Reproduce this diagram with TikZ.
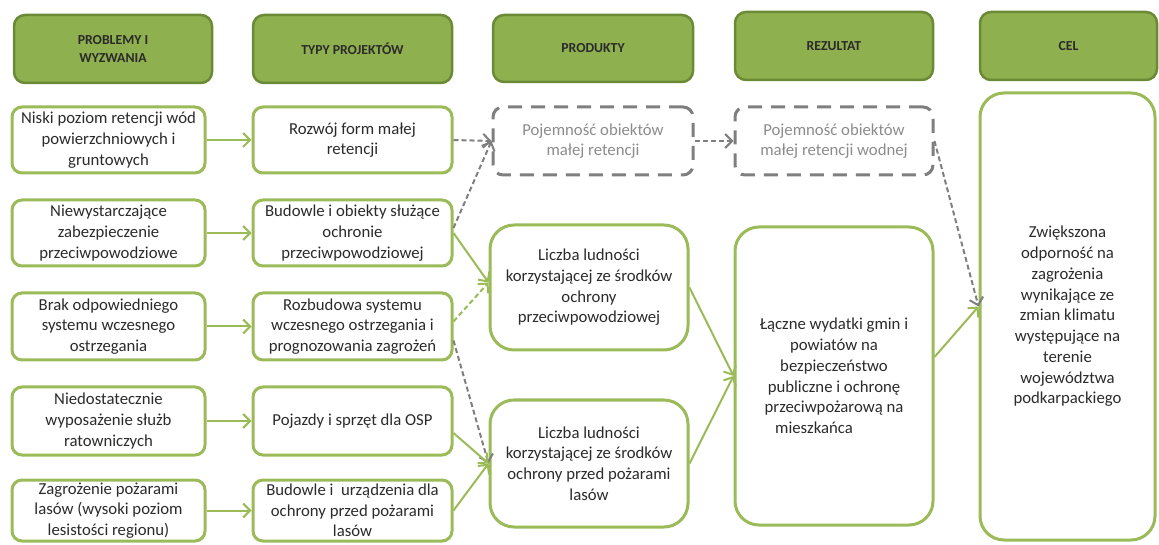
\documentclass[tikz,border=0pt]{standalone}
\usepackage{fontspec}
\setmainfont{Carlito}
\usetikzlibrary{arrows.meta}
\definecolor{gline}{HTML}{9BBB59}
\definecolor{hfill}{HTML}{8FB04F}
\definecolor{hline}{HTML}{6A8A36}
\definecolor{dgray}{HTML}{7F7F7F}
\definecolor{tgray}{HTML}{8C8C8C}
\definecolor{txt}{HTML}{2B2B2B}
\tikzset{
  hdr/.style={draw=hline, fill=hfill, line width=2.5bp, rounded corners=11bp, align=center,
    font=\fontsize{13.8}{17.5}\selectfont\bfseries, text=txt, inner sep=0pt},
  gbox/.style={draw=gline, fill=white, line width=3bp, rounded corners=10bp, align=center,
    font=\fontsize{16.8}{20.8}\selectfont, text=txt, inner sep=0pt},
  bigbox/.style={gbox, rounded corners=24bp},
  dbox/.style={draw=dgray, fill=white, line width=3bp, rounded corners=10bp, align=center,
    dash pattern=on 14bp off 9bp, font=\fontsize{16.8}{20.8}\selectfont, text=tgray, inner sep=0pt},
  garr/.style={draw=gline, line width=2bp, -{Straight Barb[length=7bp,width=14bp]}},
  gdarr/.style={garr, dash pattern=on 5bp off 3bp},
  darr/.style={draw=dgray, line width=2bp, dash pattern=on 5bp off 3bp, -{Straight Barb[length=7bp,width=14bp]}},
}
\newcommand{\bx}[6]{% name, style, x1,y1,x2,y2 -> centered node
  \node[#2, minimum width={(#5-#3)*1bp}, minimum height={(#6-#4)*1bp}] (#1) at ({(#3+#5)/2},{(#4+#6)/2})}
\begin{document}
\begin{tikzpicture}[x=1bp,y=-1bp]
\useasboundingbox (0,0) rectangle (1159,545);
% headers
\bx{H1}{hdr}{14}{15}{212}{83}{PROBLEMY I\\WYZWANIA};
\bx{H2}{hdr}{253}{15}{452}{83}{TYPY PROJEKTÓW};
\bx{H3}{hdr}{493}{15}{693}{82}{PRODUKTY};
\bx{H4}{hdr}{735}{12}{933}{80}{REZULTAT};
\bx{H5}{hdr}{980}{12}{1157}{80}{CEL};
% problems
\bx{P1}{gbox}{12}{107}{205}{173}{Niski poziom retencji wód\\powierzchniowych i\\gruntowych};
\bx{P2}{gbox}{12}{200}{205}{266}{Niewystarczające\\zabezpieczenie\\przeciwpowodziowe};
\bx{P3}{gbox}{12}{293}{205}{360}{Brak odpowiedniego\\systemu wczesnego\\ostrzegania};
\bx{P4}{gbox}{12}{387}{205}{455}{Niedostatecznie\\wyposażenie służb\\ratowniczych};
\bx{P5}{gbox}{12}{480}{205}{541}{Zagrożenie pożarami\\lasów (wysoki poziom\\lesistości regionu)};
% project types
\bx{T1}{gbox}{253}{107}{452}{173}{Rozwój form małej\\retencji};
\bx{T2}{gbox}{253}{200}{452}{266}{Budowle i obiekty służące\\ochronie\\przeciwpowodziowej};
\bx{T3}{gbox}{253}{293}{452}{360}{Rozbudowa systemu\\wczesnego ostrzegania i\\prognozowania zagrożeń};
\bx{T4}{gbox}{253}{387}{452}{455}{Pojazdy i sprzęt dla OSP};
\bx{T5}{gbox}{253}{480}{452}{541}{Budowle i \ urządzenia dla\\ochrony przed pożarami\\lasów};
% products
\bx{PR1}{dbox}{493}{107}{693}{175}{Pojemność obiektów\\małej retencji};
\bx{PR2}{bigbox}{490}{225}{688}{350}{Liczba ludności\\korzystającej ze środków\\ochrony\\przeciwpowodziowej};
\bx{PR3}{bigbox}{490}{400}{688}{527}{Liczba ludności\\korzystającej ze środków\\ochrony przed pożarami\\lasów};
% results
\bx{RZ1}{dbox}{735}{107}{933}{175}{Pojemność obiektów\\małej retencji wodnej};
\bx{RZ2}{bigbox}{735}{227}{933}{525}{Łączne wydatki gmin i\\powiatów na\\bezpieczeństwo\\publiczne i ochronę\\przeciwpożarową na\\mieszkańca\hspace*{40bp}};
% goal
\bx{CEL}{bigbox}{980}{93}{1155}{540}{Zwiększona\\odporność na\\zagrożenia\\wynikające ze\\zmian klimatu\\występujące na\\terenie\\województwa\\podkarpackiego};
% arrows P -> T
\draw[garr] (P1.east) -- (T1.west);
\draw[garr] (P2.east) -- (T2.west);
\draw[garr] (P3.east) -- (T3.west);
\draw[garr] (P4.east) -- (T4.west);
\draw[garr] (P5.east) -- (T5.west);
% T -> PR
\draw[darr] (T1.east) -- (PR1.west);
\draw[darr] ([yshift=5bp]T2.east) -- (PR1.west);
\draw[garr] (T2.east) -- ([yshift=5bp]PR2.west);
\draw[gdarr] ([yshift=5bp]T3.east) -- ([yshift=5bp]PR2.west);
\draw[darr] ([yshift=-14bp]T3.east) -- (PR3.west);
\draw[garr] ([yshift=-12bp]T4.east) -- (PR3.west);
\draw[garr] (T5.east) -- (PR3.west);
% PR -> RZ
\draw[darr] (PR1.east) -- (RZ1.west);
\draw[garr] (PR2.east) -- (RZ2.west);
\draw[garr] (PR3.east) -- (RZ2.west);
% RZ -> CEL
\draw[darr] (RZ1.east) -- ([yshift=10bp]CEL.west);
\draw[garr] ([yshift=19bp]RZ2.east) -- ([yshift=10bp]CEL.west);
\end{tikzpicture}
\end{document}
